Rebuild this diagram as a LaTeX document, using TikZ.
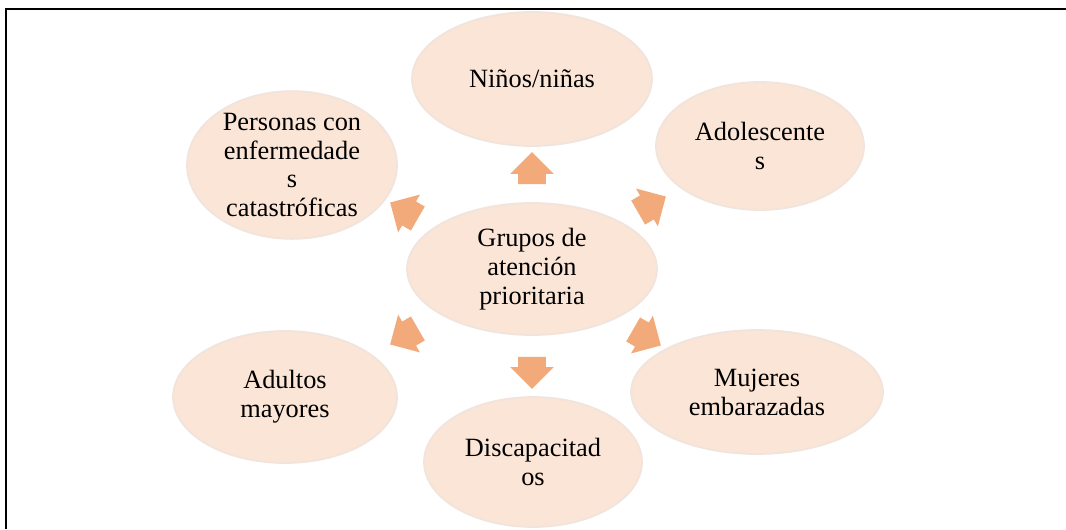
\documentclass[tikz,border=0pt]{standalone}
\usepackage{fontspec}
\setmainfont{Liberation Serif}
\usepackage{tikz}
\usetikzlibrary{shapes,calc}
\definecolor{peach}{RGB}{251,229,214}
\definecolor{peachedge}{RGB}{240,228,221}
\definecolor{arrowfill}{RGB}{243,170,122}

\begin{document}
\begin{tikzpicture}[x=0.02cm,y=0.02cm,
  grupo/.style={ellipse,fill=peach,draw=peachedge,line width=1pt,inner sep=0pt,align=center,font=\rmfamily\fontsize{15}{16.5}\selectfont},
  flecha/.style={single arrow,fill=arrowfill,draw=none,inner xsep=0pt,inner ysep=0.27cm,minimum height=0.64cm,single arrow head extend=0.16cm}]
\useasboundingbox (0,0) rectangle (1066,529);

\draw[line width=1.2pt] (6,0)--(6,520)--(1066,520);

\node[grupo,minimum width=5cm,minimum height=2.64cm] (centro) at (532,260) {Grupos de\\atención\\prioritaria};

\node[grupo,minimum width=4.8cm,minimum height=2.68cm] (ninos) at (532,450) {Niños/niñas};
\node[grupo,minimum width=4.16cm,minimum height=2.56cm] (adol) at (760,383) {Adolescente\\s};
\node[grupo,minimum width=5.04cm,minimum height=2.48cm] (mujeres) at (757,137) {Mujeres\\embarazadas};
\node[grupo,minimum width=4.36cm,minimum height=2.6cm] (discap) at (533,67) {Discapacitad\\os};
\node[grupo,minimum width=4.48cm,minimum height=2.64cm] (adultos) at (285,132) {Adultos\\mayores};
\node[grupo,minimum width=4.2cm,minimum height=2.72cm] (personas) at (292,364) {Personas con\\enfermedade\\s\\catastróficas};

\node[flecha,rotate=90] (fninos) at (532,354) {};
\node[flecha,rotate=30] (fadol) at (646,321) {};
\node[flecha,rotate=-30] (fmujeres) at (641,195) {};
\node[flecha,rotate=-90] (fdiscap) at (532,163) {};
\node[flecha,rotate=210] (fadultos) at (410,196) {};
\node[flecha,rotate=150] (fpersonas) at (410,315) {};
\end{tikzpicture}
\end{document}
